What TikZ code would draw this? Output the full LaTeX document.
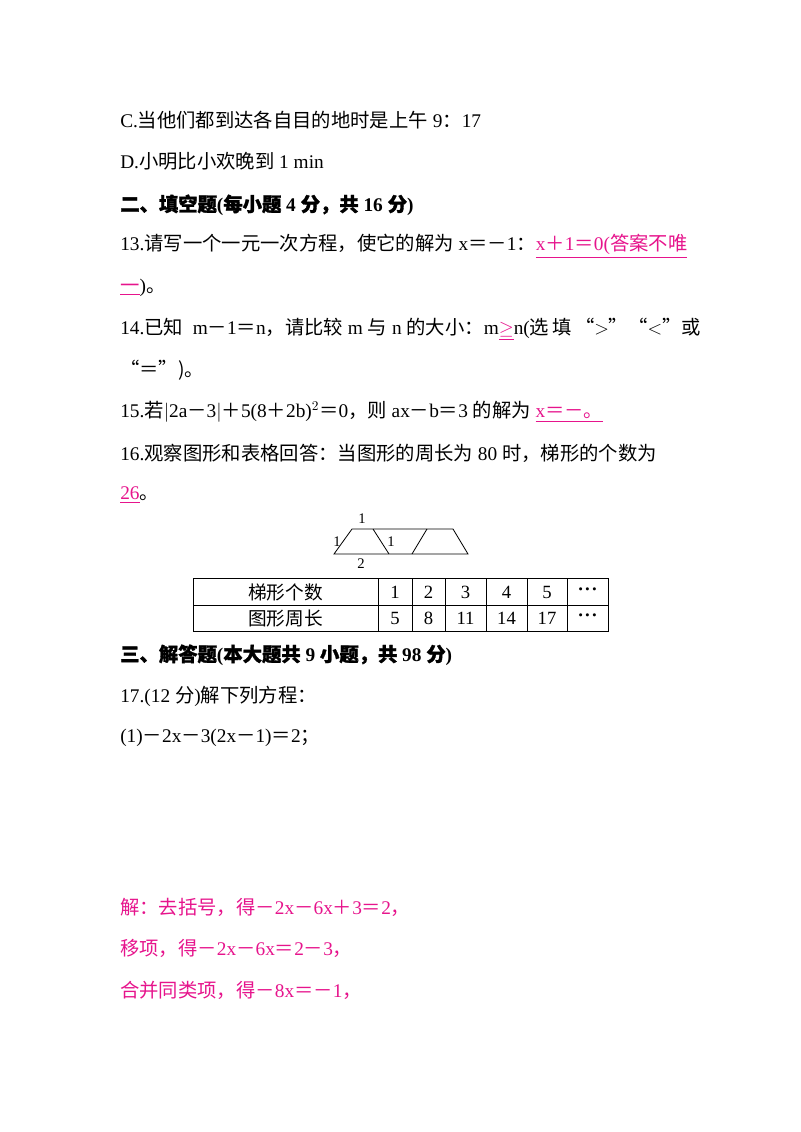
\documentclass[tikz,border=0pt]{standalone}
\usepackage{fontspec}
\setmainfont{Liberation Serif}
\newfontfamily\cjk{Noto Sans CJK SC}
\newfontfamily\cjkb[FakeBold=1.5]{Noto Sans CJK SC}
\definecolor{ans}{RGB}{230,20,140}
\newcommand{\z}[1]{{\cjk #1}}
\newcommand{\zb}[1]{{\cjkb #1}}
\newcommand{\au}[1]{\textcolor{ans}{\underline{#1}}}
\newcommand{\dts}{\textbf{·\kern0.5pt·\kern0.5pt·}}
\begin{document}
\begin{tikzpicture}[x=0.75pt,y=-0.75pt,
  ln/.style={anchor=west,inner sep=0pt,font=\fontsize{14.5pt}{16pt}\selectfont},
  an/.style={ln,text=ans},
  cell/.style={inner sep=0pt,font=\fontsize{14pt}{15pt}\selectfont}]
\useasboundingbox (0,0) rectangle (800,1132);
\node[ln] (l1) at (120,120) {C.\z{当他们都到达各自目的地时是上午} 9\z{：}17};
\node[ln] (l2) at (120,161) {D.\z{小明比小欢晚到} 1 min};
\node[ln] (l3) at (120,205) {\textbf{\zb{二、填空题}(\zb{每小题} 4 \zb{分，共} 16 \zb{分})}};
\node[ln] (l4) at (120,246) {13.\z{请写一个一元一次方程，使它的解为} x\z{＝－}1\z{：}\au{x\z{＋}1\z{＝}0(\z{答案不唯}}};
\node[ln] (l5) at (120,288) {\au{\z{一}})\z{。}};
\node[ln] (l6) at (120,329) {14.\z{已知}\ \ m\z{－}1\z{＝}n\z{，请比较} m \z{与} n \z{的大小：}m\au{$\geq$}n(\z{选\,填\,“}$>$\z{”“}$<$\z{”或}};
\node[ln] (l7) at (120,370) {\z{“＝”)。}};
\node[ln] (l8) at (120,412) {15.\z{若}$|$2a\z{－}3$|$\z{＋}5(8\z{＋}2b)$^2$\z{＝}0\z{，则} ax\z{－}b\z{＝}3 \z{的解为} \au{x\z{＝－。}}};
\node[ln] (l9) at (120,453) {16.\z{观察图形和表格回答：当图形的周长为} 80 \z{时，梯形的个数为}};
\node[ln] (l10) at (120,495) {\au{26}\z{。}};
% figure
\coordinate (bl) at (334,554); \coordinate (br) at (468,554);
\coordinate (tl) at (352,529); \coordinate (tr) at (453,529);
\draw[line width=0.6pt] (bl)--(tl)--(tr)--(br)--cycle;
\coordinate (m1) at (373,529); \coordinate (m2) at (389,554);
\coordinate (n1) at (427,529); \coordinate (n2) at (412,554);
\draw[line width=0.6pt] (m1)--(m2) (n1)--(n2);
\node[cell,font=\fontsize{11pt}{12pt}\selectfont] (f1) at (362,519) {1};
\node[cell,font=\fontsize{11pt}{12pt}\selectfont] (f2) at (337,542) {1};
\node[cell,font=\fontsize{11pt}{12pt}\selectfont] (f3) at (391,542) {1};
\node[cell,font=\fontsize{11pt}{12pt}\selectfont] (f4) at (361,564) {2};
% table
\draw[line width=0.6pt] (193,578) rectangle (608,631);
\draw[line width=0.6pt] (193,605)--(608,605);
\foreach \x in {378,412,445,486,527,567} \draw[line width=0.6pt] (\x,578)--(\x,631);
\node[cell] (h1) at (285.5,592) {\z{梯形个数}};
\node[cell] (h2) at (285.5,618) {\z{图形周长}};
\foreach \v/\x in {1/395,2/428.5,3/465.5,4/506.5,5/547,\dts/587.5} \node[cell] at (\x,592) {\v};
\foreach \v/\x in {5/395,8/428.5,11/465.5,14/506.5,17/547,\dts/587.5} \node[cell] at (\x,618) {\v};
\node[ln] (l11) at (120,655) {\textbf{\zb{三、解答题}(\zb{本大题共} 9 \zb{小题，共} 98 \zb{分})}};
\node[ln] (l12) at (120,696) {17.(12 \z{分})\z{解下列方程：}};
\node[ln] (l13) at (120,738) {(1)\z{－}2x\z{－}3(2x\z{－}1)\z{＝}2\z{；}};
\node[an] (l14) at (120,907) {\z{解：去括号，得－}2x\z{－}6x\z{＋}3\z{＝}2\z{，}};
\node[an] (l15) at (120,948) {\z{移项，得－}2x\z{－}6x\z{＝}2\z{－}3\z{，}};
\node[an] (l16) at (120,990) {\z{合并同类项，得－}8x\z{＝－}1\z{，}};
\end{tikzpicture}
\end{document}
